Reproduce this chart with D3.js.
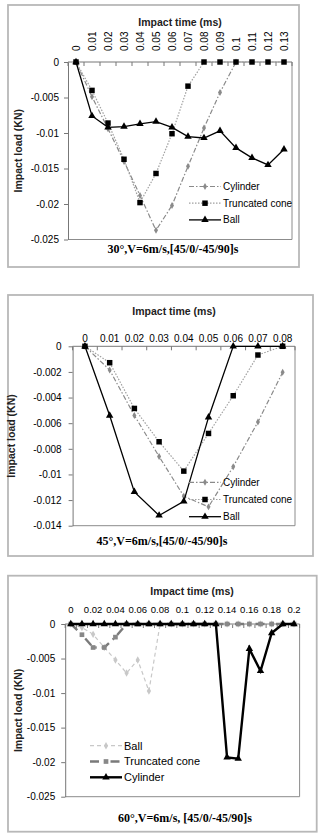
<!DOCTYPE html>
<html>
<head>
<meta charset="utf-8">
<script src="https://cdn.jsdelivr.net/npm/d3@7"></script>
<style>
  body { margin: 0; background: #fff; }
</style>
</head>
<body>
<svg id="drawing_region"></svg>
<script>
// panel 1 : 30 deg
const times1 = ["0","0.01","0.02","0.03","0.04","0.05","0.06","0.07","0.08","0.09","0.1","0.11","0.12","0.13"];
const cylinder1 = [0,-0.0049,-0.0094,-0.014,-0.0188,-0.0237,-0.0202,-0.0147,-0.0093,-0.0043,0];
const cone1 = [0,-0.004,-0.0086,-0.0137,-0.0198,-0.0157,-0.0101,-0.0034,0,0,0,0,0,0];
const ball1 = [0,-0.0076,-0.0092,-0.0091,-0.0087,-0.0084,-0.0092,-0.0105,-0.0107,-0.0097,-0.0121,-0.0135,-0.0145,-0.0123];
const yticks1 = [0,-0.005,-0.01,-0.015,-0.02,-0.025];

// panel 2 : 45 deg
const times2 = ["0","0.01","0.02","0.03","0.04","0.05","0.06","0.07","0.08"];
const cylinder2 = [0,-0.00185,-0.0054,-0.0086,-0.0117,-0.01253,-0.0094,-0.0059,-0.00203];
const cone2 = [0,-0.00128,-0.00485,-0.00745,-0.00974,-0.0068,-0.00386,-0.00068,0];
const ball2 = [0,-0.0054,-0.01136,-0.0132,-0.0121,-0.00555,0,0,0];
const yticks2 = [0,-0.002,-0.004,-0.006,-0.008,-0.01,-0.012,-0.014];

// panel 3 : 60 deg
const times3 = ["0","0.01","0.02","0.03","0.04","0.05","0.06","0.07","0.08","0.09","0.1",
                "0.11","0.12","0.13","0.14","0.15","0.16","0.17","0.18","0.19","0.2"];
const ticklabels3 = ["0","0.02","0.04","0.06","0.08","0.1","0.12","0.14","0.16","0.18","0.2"];
const ball3 = [0,-0.0005,-0.0015,-0.0034,-0.0052,-0.0071,-0.0052,-0.0097,0,0,0,0,0,0,0,0,0,0,0,0,0];
const cone3 = [0,-0.00155,-0.0034,-0.0034,-0.0019,0,0,0,0,0,0,0,0,0,0,0,0,0,0,0,0];
const cylinder3 = [0,0,0,0,0,0,0,0,0,0,0,0,0,0,-0.0193,-0.0195,-0.0036,-0.0068,-0.0013,0,0];
const yticks3 = [0,-0.005,-0.01,-0.015,-0.02,-0.025];

const SANS = '"Liberation Sans", Arial, sans-serif';
const SERIF = '"Liberation Serif", "Times New Roman", serif';

const svg = d3.select('#drawing_region')
    .attr('width', 322)
    .attr('height', 836)
    .style('font-family', SANS);

const fmt = d => d === 0 ? "0" : String(d);

function drawPanel(c) {
    // outer frame
    svg.append('rect')
        .attr('x', c.frame[0]).attr('y', c.frame[1])
        .attr('width', c.frame[2]).attr('height', c.frame[3])
        .attr('fill', '#fff').attr('stroke', '#b8b8b8').attr('stroke-width', 1.8);

    const x = d3.scaleBand()
        .domain(c.times)
        .range([c.left, c.right])
        .padding(0);
    const cx = d => x(d) + x.bandwidth() / 2;

    const y = d3.scaleLinear()
        .domain([0, c.ymin])
        .range([c.top, c.bottom]);

    const g = svg.append('g');

    // plot area border (right and bottom)
    g.append('path')
        .attr('d', `M${c.right},${c.top}V${c.bottom}H${c.left}`)
        .attr('fill', 'none').attr('stroke', '#8c8c8c').attr('stroke-width', 1);

    // y axis
    const yaxis = d3.axisLeft(y)
        .tickValues(c.yticks)
        .tickFormat(fmt)
        .tickSize(4)
        .tickSizeOuter(0)
        .tickPadding(c.ypad);
    const yg = g.append('g')
        .attr('transform', `translate(${c.left},0)`)
        .call(yaxis);
    yg.select('.domain').attr('stroke', '#777');
    yg.selectAll('.tick line').attr('stroke', '#777');
    yg.selectAll('.tick text')
        .attr('font-size', c.yfont)
        .attr('fill', '#000')
        .style('font-family', SANS);

    // category axis at zero (top)
    g.append('line')
        .attr('x1', c.left).attr('x2', c.right)
        .attr('y1', y(0)).attr('y2', y(0))
        .attr('stroke', '#777');
    g.selectAll('.xtick')
        .data(c.times.concat(['end']))
        .join('line')
        .attr('x1', (d, i) => i < c.times.length ? x(d) : c.right)
        .attr('x2', (d, i) => i < c.times.length ? x(d) : c.right)
        .attr('y1', y(0)).attr('y2', y(0) + 4)
        .attr('stroke', '#777');

    const labels = c.ticklabels || c.times;
    if (c.rotate) {
        g.selectAll('.xlab')
            .data(labels)
            .join('text')
            .attr('transform', d => `translate(${cx(d)},${c.xlaby}) rotate(-90)`)
            .attr('text-anchor', 'start')
            .attr('dy', '0.35em')
            .attr('font-size', c.xfont)
            .text(d => d);
    } else {
        g.selectAll('.xlab')
            .data(labels)
            .join('text')
            .attr('x', d => cx(d))
            .attr('y', c.xlaby)
            .attr('text-anchor', 'middle')
            .attr('font-size', c.xfont)
            .text(d => d);
    }

    // axis titles
    g.append('text')
        .attr('x', c.xtitle[0]).attr('y', c.xtitle[1])
        .attr('text-anchor', 'middle')
        .attr('font-size', 10.5).attr('font-weight', 'bold')
        .attr('fill', '#222')
        .text('Impact time (ms)');
    g.append('text')
        .attr('transform', `translate(${c.ytitle[0]},${(c.top + c.bottom) / 2}) rotate(-90)`)
        .attr('text-anchor', 'middle')
        .attr('dy', '0.35em')
        .attr('font-size', 10.5).attr('font-weight', 'bold')
        .attr('fill', '#222')
        .text('Impact load (KN)');
    g.append('text')
        .attr('x', c.caption[0]).attr('y', c.caption[1])
        .attr('text-anchor', 'middle')
        .style('font-family', SERIF)
        .attr('font-size', 12).attr('font-weight', 'bold')
        .text(c.caption[2]);

    // series
    const line = d3.line()
        .x((d, i) => cx(c.times[i]))
        .y(d => y(d));

    c.series.forEach(s => {
        g.append('path')
            .datum(s.values)
            .attr('d', line)
            .attr('fill', 'none')
            .attr('stroke', s.color)
            .attr('stroke-width', s.width)
            .attr('stroke-dasharray', s.dash);
        g.selectAll(null)
            .data(s.values)
            .join('path')
            .attr('transform', (d, i) => `translate(${cx(c.times[i])},${y(d)})`)
            .attr('d', d3.symbol().type(s.symbol).size(s.size))
            .attr('fill', s.mcolor);
    });

    // legend
    c.series.forEach((s, i) => {
        const ly = c.legend[1] + i * c.legend[3];
        const lx = c.legend[0];
        g.append('line')
            .attr('x1', lx).attr('x2', lx + 32)
            .attr('y1', ly).attr('y2', ly)
            .attr('stroke', s.color)
            .attr('stroke-width', s.width)
            .attr('stroke-dasharray', s.dash);
        g.append('path')
            .attr('transform', `translate(${lx + 16},${ly})`)
            .attr('d', d3.symbol().type(s.symbol).size(s.size))
            .attr('fill', s.mcolor);
        g.append('text')
            .attr('x', lx + 34).attr('y', ly)
            .attr('dy', '0.35em')
            .attr('font-size', c.legend[2])
            .text(s.name);
    });
}

drawPanel({
    frame: [8, 5, 291, 262],
    times: times1,
    left: 68, right: 292, top: 62, bottom: 239.5,
    ymin: -0.025, yticks: yticks1, ypad: 5, yfont: 10,
    rotate: true, xlaby: 51, xfont: 10,
    xtitle: [180, 25.5], ytitle: [18],
    caption: [173, 253, '30°,V=6m/s,[45/0/-45/90]s'],
    legend: [189, 186.5, 10, 16.7],
    series: [
        {name: 'Cylinder', values: cylinder1, color: '#8a8a8a', width: 1.2, dash: '5,2,1.5,2', symbol: d3.symbolDiamond, size: 14, mcolor: '#8a8a8a'},
        {name: 'Truncated cone', values: cone1, color: '#a0a0a0', width: 1.2, dash: '1.5,1.5', symbol: d3.symbolSquare, size: 30, mcolor: '#000'},
        {name: 'Ball', values: ball1, color: '#000', width: 1.3, dash: null, symbol: d3.symbolTriangle, size: 24, mcolor: '#000'}
    ]
});

drawPanel({
    frame: [8, 295, 305, 261],
    times: times2,
    left: 72.6, right: 295, top: 346.3, bottom: 525.7,
    ymin: -0.014, yticks: yticks2, ypad: 7, yfont: 10,
    rotate: false, xlaby: 341.5, xfont: 10,
    xtitle: [174, 315], ytitle: [11],
    caption: [162, 544.5, '45°,V=6m/s,[45/0/-45/90]s'],
    legend: [189, 482.3, 10, 17.2],
    series: [
        {name: 'Cylinder', values: cylinder2, color: '#8a8a8a', width: 1.2, dash: '5,2,1.5,2', symbol: d3.symbolDiamond, size: 14, mcolor: '#8a8a8a'},
        {name: 'Truncated cone', values: cone2, color: '#a0a0a0', width: 1.2, dash: '1.5,1.5', symbol: d3.symbolSquare, size: 30, mcolor: '#000'},
        {name: 'Ball', values: ball2, color: '#000', width: 1.3, dash: null, symbol: d3.symbolTriangle, size: 24, mcolor: '#000'}
    ]
});

drawPanel({
    frame: [8, 575.7, 308.7, 256],
    times: times3, ticklabels: ticklabels3,
    left: 65.2, right: 299.6, top: 624, bottom: 796.7,
    ymin: -0.025, yticks: yticks3, ypad: 6, yfont: 10,
    rotate: false, xlaby: 612.5, xfont: 9.5,
    xtitle: [192, 595], ytitle: [18],
    caption: [185, 822, '60°,V=6m/s, [45/0/-45/90]s'],
    legend: [90, 745.7, 11, 15.8],
    series: [
        {name: 'Ball', values: ball3, color: '#c8c8c8', width: 1.2, dash: '4,3', symbol: d3.symbolDiamond, size: 16, mcolor: '#c8c8c8'},
        {name: 'Truncated cone', values: cone3, color: '#7a7a7a', width: 2.4, dash: '9,5,1.5,5', symbol: d3.symbolSquare, size: 22, mcolor: '#888'},
        {name: 'Cylinder', values: cylinder3, color: '#000', width: 2.4, dash: null, symbol: d3.symbolTriangle, size: 24, mcolor: '#000'}
    ]
});
</script>
</body>
</html>
